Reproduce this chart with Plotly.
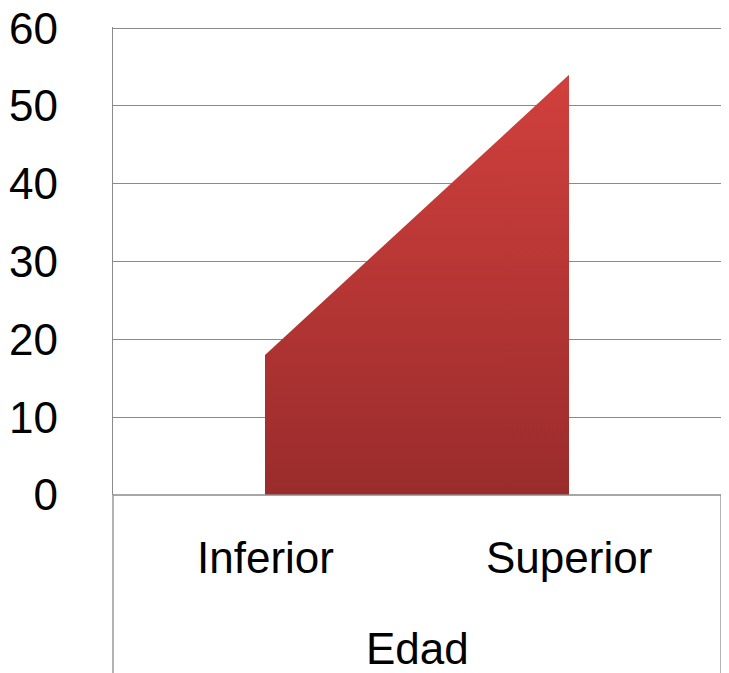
import plotly.graph_objects as go

categories = ["Inferior", "Superior"]
group_label = "Edad"
values = [18, 54]
y_ticks = [0, 10, 20, 30, 40, 50, 60]

FONT = "Liberation Sans"
FS = 44
GRID = "#8a8a8a"

# page body has an 8px margin, so the figure is sized and offset to fit
W, H = 721, 665
ML, MR, MT, MB = 105, 8, 19, 178

fig = go.Figure()
fig.add_trace(go.Scatter(
    x=[0, 0, 1, 1],
    y=[0, values[0], values[1], 0],
    mode="lines",
    line=dict(width=0, color="rgba(0,0,0,0)"),
    fill="toself",
    fillgradient=dict(
        type="vertical",
        colorscale=[[0, "#9a2c2c"], [1, "#d1403d"]],
        start=0,
        stop=max(values),
    ),
    hoverinfo="skip",
    showlegend=False,
))

fig.update_layout(
    width=W,
    height=H,
    margin=dict(l=ML, r=MR, t=MT, b=MB, autoexpand=False),
    paper_bgcolor="white",
    plot_bgcolor="white",
    font=dict(family=FONT, size=FS, color="black"),
    showlegend=False,
    xaxis=dict(
        range=[-0.5, 1.5],
        showgrid=False,
        zeroline=False,
        showticklabels=False,
        showline=False,
        fixedrange=True,
        automargin=False,
    ),
    yaxis=dict(
        range=[0, 60.15],
        tickvals=y_ticks,
        ticktext=[str(v) for v in y_ticks],
        showgrid=True,
        gridcolor=GRID,
        gridwidth=1.3,
        zeroline=False,
        showline=True,
        linecolor=GRID,
        linewidth=1.3,
        ticks="",
        ticklabelstandoff=45,
        ticklabeloverflow="allow",
        tickfont=dict(family=FONT, size=FS, color="black"),
        fixedrange=True,
        automargin=False,
    ),
)

# category table lines below the axis
ph = H - MT - MB
fig.add_shape(type="line", xref="paper", yref="paper", x0=0, x1=1, y0=0, y1=0,
              line=dict(color=GRID, width=1.3))
for xp in [0, 1]:
    fig.add_shape(type="line", xref="paper", yref="paper", x0=xp, x1=xp,
                  y0=0, y1=-MB / ph, line=dict(color=GRID, width=1.3))

for i, c in enumerate(categories):
    fig.add_annotation(x=i, xref="x", y=-62 / ph, yref="paper", text=c,
                       showarrow=False, xanchor="center", yanchor="middle",
                       font=dict(family=FONT, size=FS, color="black"))
fig.add_annotation(x=0.5, xref="paper", y=-153 / ph, yref="paper", text=group_label,
                   showarrow=False, xanchor="center", yanchor="middle",
                   font=dict(family=FONT, size=FS, color="black"))

fig.write_html("out.html")
